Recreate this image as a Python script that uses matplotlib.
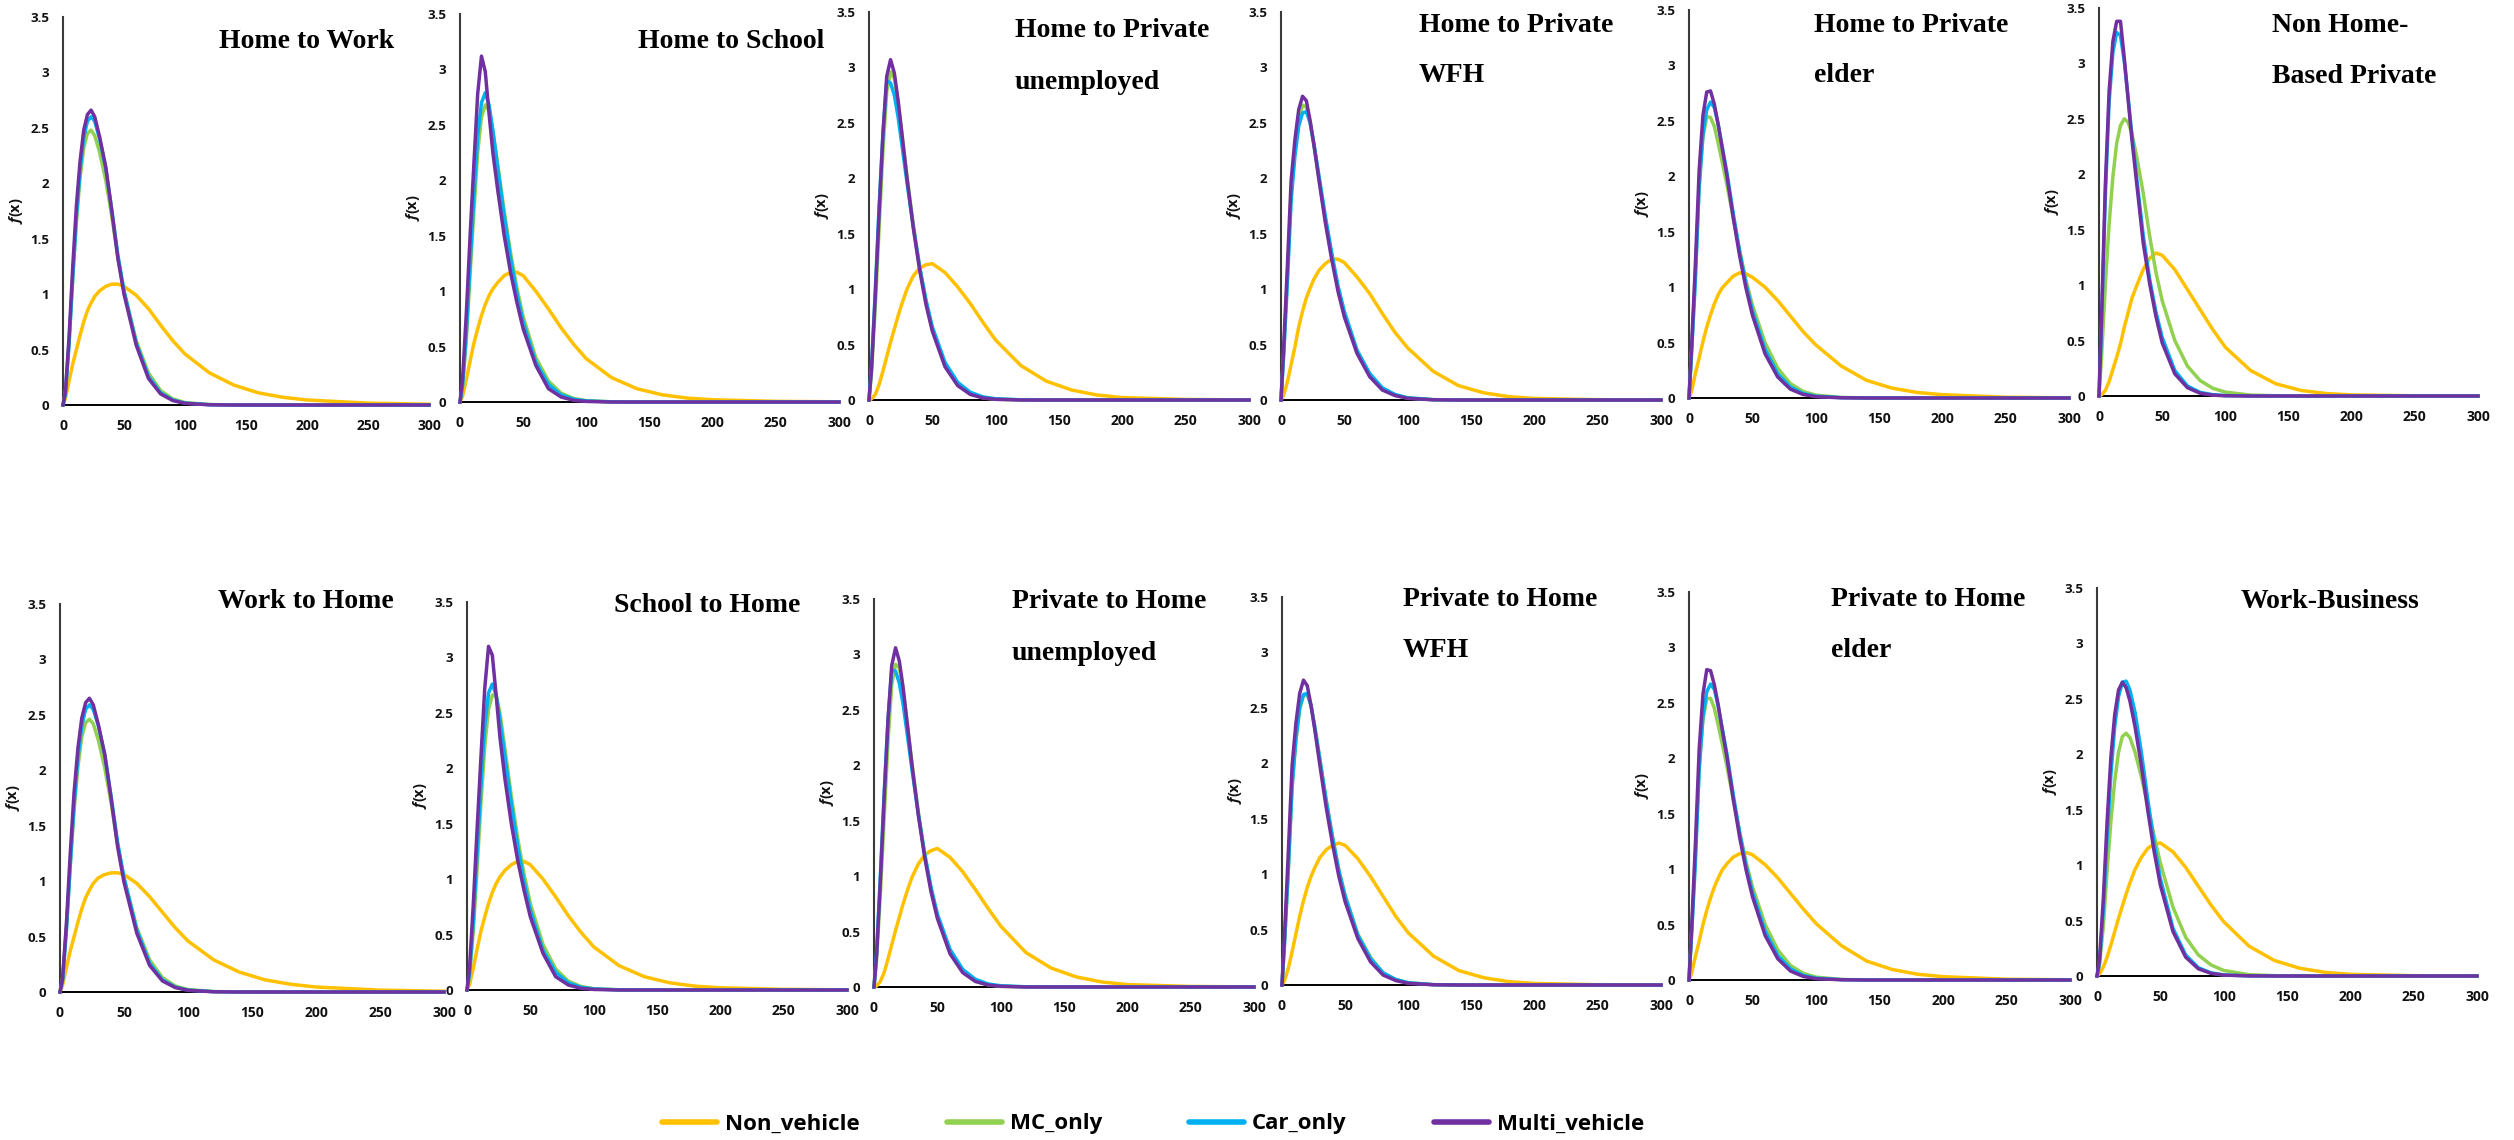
import numpy as np
import matplotlib.pyplot as plt
from matplotlib.lines import Line2D

plt.rcParams['font.family'] = ['Open Sans', 'DejaVu Sans']
plt.rcParams['font.weight'] = 'bold'
plt.rcParams['mathtext.fontset'] = 'custom'
plt.rcParams['mathtext.it'] = 'Open Sans:italic:bold'
plt.rcParams['mathtext.rm'] = 'Open Sans:bold'

x_grid = [0, 2, 5, 8, 11, 14, 17, 20, 23, 26, 30, 35, 40, 45, 50,
          60, 70, 80, 90, 100, 120, 140, 160, 180, 200, 250, 300]

series_names = ['Non_vehicle', 'MC_only', 'Car_only', 'Multi_vehicle']
series_colors = ['#FFC000', '#92D050', '#00B0F0', '#7030A0']

x_ticks = [0, 50, 100, 150, 200, 250, 300]
y_ticks = [0, 0.5, 1, 1.5, 2, 2.5, 3, 3.5]
y_tick_labels = ['0', '0.5', '1', '1.5', '2', '2.5', '3', '3.5']

# each panel: [Non_vehicle, MC_only, Car_only, Multi_vehicle]
home_to_work = [
    [0, 0.06, 0.22, 0.37, 0.5, 0.63, 0.75, 0.85, 0.92, 0.98, 1.03, 1.07, 1.09, 1.09, 1.07, 0.99, 0.87, 0.72, 0.58, 0.46, 0.29, 0.18, 0.11, 0.07, 0.045, 0.017, 0.007],
    [0, 0.12, 0.58, 1.15, 1.65, 2.05, 2.32, 2.45, 2.48, 2.43, 2.28, 2.03, 1.7, 1.33, 1.03, 0.58, 0.29, 0.13, 0.055, 0.022, 0.004, 0.001, 0, 0, 0, 0, 0],
    [0, 0.1, 0.55, 1.15, 1.7, 2.12, 2.41, 2.56, 2.6, 2.56, 2.4, 2.14, 1.76, 1.35, 1.03, 0.56, 0.26, 0.11, 0.045, 0.017, 0.003, 0, 0, 0, 0, 0, 0],
    [0, 0.12, 0.62, 1.25, 1.8, 2.2, 2.48, 2.62, 2.66, 2.6, 2.42, 2.15, 1.75, 1.32, 1.0, 0.54, 0.24, 0.1, 0.04, 0.015, 0.002, 0, 0, 0, 0, 0, 0],
]
home_to_school = [
    [0, 0.05, 0.2, 0.37, 0.53, 0.66, 0.78, 0.88, 0.96, 1.02, 1.08, 1.14, 1.17, 1.17, 1.14, 1.0, 0.84, 0.67, 0.52, 0.39, 0.22, 0.12, 0.065, 0.035, 0.02, 0.006, 0.002],
    [0, 0.13, 0.56, 1.15, 1.72, 2.25, 2.57, 2.68, 2.63, 2.45, 2.13, 1.72, 1.35, 1.03, 0.77, 0.4, 0.19, 0.08, 0.032, 0.012, 0.002, 0, 0, 0, 0, 0, 0],
    [0, 0.15, 0.62, 1.25, 1.85, 2.4, 2.7, 2.79, 2.68, 2.45, 2.1, 1.68, 1.3, 0.98, 0.72, 0.36, 0.16, 0.065, 0.025, 0.01, 0.001, 0, 0, 0, 0, 0, 0],
    [0, 0.2, 0.8, 1.5, 2.15, 2.78, 3.12, 2.98, 2.6, 2.25, 1.9, 1.5, 1.17, 0.9, 0.66, 0.33, 0.12, 0.045, 0.015, 0.005, 0, 0, 0, 0, 0, 0, 0],
]
home_to_private_unemployed = [
    [0, 0.01, 0.05, 0.14, 0.26, 0.39, 0.52, 0.64, 0.76, 0.87, 1.0, 1.12, 1.19, 1.22, 1.23, 1.15, 1.02, 0.87, 0.7, 0.54, 0.31, 0.17, 0.09, 0.045, 0.022, 0.005, 0.001],
    [0, 0.25, 0.85, 1.55, 2.25, 2.78, 2.96, 2.9, 2.68, 2.4, 2.02, 1.58, 1.2, 0.89, 0.64, 0.31, 0.14, 0.055, 0.02, 0.007, 0.001, 0, 0, 0, 0, 0, 0],
    [0, 0.3, 1.0, 1.75, 2.4, 2.88, 2.86, 2.75, 2.55, 2.3, 1.96, 1.56, 1.2, 0.9, 0.66, 0.34, 0.16, 0.07, 0.028, 0.011, 0.002, 0, 0, 0, 0, 0, 0],
    [0, 0.28, 0.95, 1.7, 2.4, 2.92, 3.07, 2.95, 2.7, 2.4, 2.0, 1.55, 1.17, 0.86, 0.62, 0.3, 0.13, 0.05, 0.018, 0.006, 0, 0, 0, 0, 0, 0, 0],
]
home_to_private_wfh = [
    [0, 0.04, 0.16, 0.32, 0.48, 0.66, 0.8, 0.92, 1.01, 1.09, 1.17, 1.23, 1.27, 1.27, 1.24, 1.11, 0.96, 0.78, 0.61, 0.47, 0.26, 0.13, 0.065, 0.03, 0.014, 0.003, 0],
    [0, 0.4, 1.1, 1.88, 2.27, 2.53, 2.66, 2.64, 2.5, 2.3, 2.0, 1.63, 1.3, 1.01, 0.78, 0.44, 0.23, 0.1, 0.045, 0.018, 0.003, 0, 0, 0, 0, 0, 0],
    [0, 0.38, 1.05, 1.8, 2.2, 2.47, 2.59, 2.6, 2.5, 2.31, 2.02, 1.66, 1.33, 1.03, 0.8, 0.45, 0.24, 0.11, 0.05, 0.02, 0.003, 0, 0, 0, 0, 0, 0],
    [0, 0.45, 1.2, 1.98, 2.35, 2.62, 2.74, 2.7, 2.52, 2.3, 1.98, 1.6, 1.27, 0.98, 0.75, 0.42, 0.21, 0.09, 0.04, 0.015, 0.002, 0, 0, 0, 0, 0, 0],
]
home_to_private_elder = [
    [0, 0.06, 0.22, 0.36, 0.51, 0.64, 0.75, 0.85, 0.93, 0.99, 1.04, 1.1, 1.13, 1.12, 1.09, 1.0, 0.88, 0.74, 0.6, 0.48, 0.29, 0.16, 0.09, 0.05, 0.03, 0.007, 0.002],
    [0, 0.42, 1.12, 1.9, 2.35, 2.54, 2.53, 2.45, 2.3, 2.14, 1.92, 1.62, 1.33, 1.06, 0.84, 0.5, 0.27, 0.13, 0.06, 0.026, 0.005, 0.001, 0, 0, 0, 0, 0],
    [0, 0.4, 1.05, 1.9, 2.38, 2.6, 2.67, 2.62, 2.47, 2.28, 2.03, 1.66, 1.32, 1.03, 0.79, 0.44, 0.22, 0.1, 0.042, 0.017, 0.003, 0, 0, 0, 0, 0, 0],
    [0, 0.45, 1.2, 2.05, 2.55, 2.76, 2.77, 2.65, 2.47, 2.27, 2.0, 1.62, 1.28, 0.99, 0.75, 0.4, 0.19, 0.08, 0.032, 0.012, 0.002, 0, 0, 0, 0, 0, 0],
]
non_home_private = [
    [0, 0.01, 0.05, 0.13, 0.24, 0.35, 0.47, 0.62, 0.75, 0.88, 1.0, 1.14, 1.24, 1.29, 1.27, 1.14, 0.96, 0.78, 0.6, 0.44, 0.23, 0.11, 0.05, 0.022, 0.01, 0.002, 0],
    [0, 0.35, 1.0, 1.55, 1.98, 2.28, 2.44, 2.5, 2.47, 2.37, 2.15, 1.83, 1.45, 1.12, 0.86, 0.5, 0.27, 0.14, 0.07, 0.035, 0.008, 0.002, 0, 0, 0, 0, 0],
    [0, 0.65, 1.8, 2.65, 3.1, 3.28, 3.25, 3.02, 2.7, 2.36, 1.95, 1.45, 1.06, 0.76, 0.53, 0.23, 0.09, 0.033, 0.012, 0.004, 0, 0, 0, 0, 0, 0, 0],
    [0, 0.7, 1.9, 2.75, 3.2, 3.38, 3.38, 3.05, 2.68, 2.32, 1.9, 1.38, 1.02, 0.72, 0.48, 0.2, 0.075, 0.025, 0.008, 0.002, 0, 0, 0, 0, 0, 0, 0],
]
work_to_home = [
    [0, 0.06, 0.22, 0.37, 0.5, 0.63, 0.75, 0.85, 0.92, 0.98, 1.03, 1.06, 1.075, 1.075, 1.06, 0.98, 0.86, 0.72, 0.58, 0.46, 0.29, 0.18, 0.11, 0.07, 0.045, 0.017, 0.007],
    [0, 0.12, 0.58, 1.14, 1.64, 2.03, 2.3, 2.43, 2.46, 2.42, 2.27, 2.02, 1.7, 1.33, 1.03, 0.58, 0.29, 0.13, 0.055, 0.022, 0.004, 0.001, 0, 0, 0, 0, 0],
    [0, 0.1, 0.55, 1.14, 1.69, 2.11, 2.4, 2.55, 2.59, 2.55, 2.4, 2.14, 1.76, 1.35, 1.03, 0.56, 0.26, 0.11, 0.045, 0.017, 0.003, 0, 0, 0, 0, 0, 0],
    [0, 0.12, 0.62, 1.25, 1.8, 2.2, 2.47, 2.61, 2.65, 2.59, 2.41, 2.14, 1.74, 1.31, 0.99, 0.53, 0.24, 0.1, 0.04, 0.015, 0.002, 0, 0, 0, 0, 0, 0],
]
school_to_home = [
    [0, 0.05, 0.2, 0.37, 0.53, 0.66, 0.78, 0.88, 0.96, 1.02, 1.08, 1.13, 1.16, 1.16, 1.13, 1.0, 0.84, 0.67, 0.52, 0.39, 0.22, 0.12, 0.065, 0.035, 0.02, 0.006, 0.002],
    [0, 0.12, 0.53, 1.1, 1.68, 2.2, 2.53, 2.66, 2.66, 2.5, 2.17, 1.75, 1.37, 1.05, 0.78, 0.41, 0.19, 0.08, 0.032, 0.012, 0.002, 0, 0, 0, 0, 0, 0],
    [0, 0.15, 0.62, 1.24, 1.84, 2.38, 2.68, 2.76, 2.66, 2.44, 2.1, 1.68, 1.3, 0.98, 0.72, 0.36, 0.16, 0.065, 0.025, 0.01, 0.001, 0, 0, 0, 0, 0, 0],
    [0, 0.2, 0.78, 1.46, 2.1, 2.72, 3.1, 3.02, 2.66, 2.28, 1.9, 1.5, 1.17, 0.9, 0.66, 0.33, 0.12, 0.045, 0.015, 0.005, 0, 0, 0, 0, 0, 0, 0],
]
private_to_home_unemployed = [
    [0, 0.01, 0.05, 0.13, 0.25, 0.38, 0.51, 0.63, 0.75, 0.86, 0.99, 1.11, 1.19, 1.23, 1.25, 1.17, 1.04, 0.88, 0.71, 0.55, 0.31, 0.17, 0.09, 0.045, 0.022, 0.005, 0.001],
    [0, 0.24, 0.83, 1.52, 2.2, 2.73, 2.91, 2.88, 2.67, 2.4, 2.02, 1.58, 1.2, 0.89, 0.64, 0.31, 0.14, 0.055, 0.02, 0.007, 0.001, 0, 0, 0, 0, 0, 0],
    [0, 0.3, 1.0, 1.75, 2.4, 2.86, 2.85, 2.74, 2.55, 2.3, 1.96, 1.56, 1.2, 0.9, 0.66, 0.34, 0.16, 0.07, 0.028, 0.011, 0.002, 0, 0, 0, 0, 0, 0],
    [0, 0.28, 0.95, 1.7, 2.4, 2.9, 3.06, 2.94, 2.7, 2.4, 2.0, 1.55, 1.17, 0.86, 0.62, 0.3, 0.13, 0.05, 0.018, 0.006, 0, 0, 0, 0, 0, 0, 0],
]
private_to_home_wfh = [
    [0, 0.04, 0.15, 0.3, 0.46, 0.62, 0.76, 0.88, 0.98, 1.06, 1.15, 1.22, 1.26, 1.28, 1.26, 1.14, 0.98, 0.8, 0.62, 0.47, 0.26, 0.13, 0.065, 0.03, 0.014, 0.003, 0],
    [0, 0.37, 1.03, 1.78, 2.2, 2.49, 2.61, 2.62, 2.52, 2.33, 2.04, 1.67, 1.34, 1.04, 0.81, 0.46, 0.25, 0.11, 0.05, 0.02, 0.003, 0, 0, 0, 0, 0, 0],
    [0, 0.38, 1.05, 1.8, 2.22, 2.5, 2.62, 2.63, 2.52, 2.32, 2.03, 1.66, 1.33, 1.03, 0.8, 0.45, 0.24, 0.11, 0.05, 0.02, 0.003, 0, 0, 0, 0, 0, 0],
    [0, 0.45, 1.2, 1.98, 2.36, 2.63, 2.75, 2.7, 2.52, 2.3, 1.98, 1.6, 1.27, 0.98, 0.75, 0.42, 0.21, 0.09, 0.04, 0.015, 0.002, 0, 0, 0, 0, 0, 0],
]
private_to_home_elder = [
    [0, 0.06, 0.21, 0.35, 0.5, 0.63, 0.74, 0.84, 0.92, 0.99, 1.05, 1.11, 1.14, 1.15, 1.13, 1.04, 0.92, 0.78, 0.64, 0.51, 0.31, 0.17, 0.095, 0.052, 0.03, 0.007, 0.002],
    [0, 0.42, 1.12, 1.9, 2.35, 2.54, 2.54, 2.45, 2.3, 2.14, 1.92, 1.62, 1.33, 1.06, 0.84, 0.5, 0.27, 0.13, 0.06, 0.026, 0.005, 0.001, 0, 0, 0, 0, 0],
    [0, 0.4, 1.05, 1.9, 2.38, 2.6, 2.67, 2.62, 2.47, 2.28, 2.03, 1.66, 1.32, 1.03, 0.79, 0.44, 0.22, 0.1, 0.042, 0.017, 0.003, 0, 0, 0, 0, 0, 0],
    [0, 0.45, 1.22, 2.08, 2.58, 2.8, 2.79, 2.66, 2.48, 2.27, 2.0, 1.62, 1.28, 0.99, 0.75, 0.4, 0.19, 0.08, 0.032, 0.012, 0.002, 0, 0, 0, 0, 0, 0],
]
work_business = [
    [0, 0.02, 0.08, 0.17, 0.28, 0.4, 0.52, 0.63, 0.74, 0.84, 0.96, 1.07, 1.15, 1.19, 1.2, 1.12, 0.98, 0.81, 0.64, 0.49, 0.27, 0.14, 0.07, 0.033, 0.015, 0.003, 0],
    [0, 0.1, 0.45, 0.95, 1.4, 1.76, 2.02, 2.16, 2.19, 2.15, 2.02, 1.8, 1.54, 1.27, 1.02, 0.62, 0.35, 0.19, 0.1, 0.05, 0.012, 0.003, 0, 0, 0, 0, 0],
    [0, 0.12, 0.6, 1.25, 1.82, 2.25, 2.52, 2.65, 2.66, 2.58, 2.38, 2.02, 1.6, 1.21, 0.88, 0.43, 0.19, 0.075, 0.028, 0.01, 0.001, 0, 0, 0, 0, 0, 0],
    [0, 0.15, 0.7, 1.4, 1.98, 2.36, 2.58, 2.65, 2.6, 2.48, 2.25, 1.9, 1.5, 1.13, 0.82, 0.4, 0.17, 0.065, 0.024, 0.008, 0.001, 0, 0, 0, 0, 0, 0],
]

panels = [home_to_work, home_to_school, home_to_private_unemployed, home_to_private_wfh,
          home_to_private_elder, non_home_private, work_to_home, school_to_home,
          private_to_home_unemployed, private_to_home_wfh, private_to_home_elder, work_business]

titles = [["Home to Work"], ["Home to School"], ["Home to Private", "unemployed"],
          ["Home to Private", "WFH"], ["Home to Private", "elder"], ["Non Home-", "Based Private"],
          ["Work to Home"], ["School to Home"], ["Private to Home", "unemployed"],
          ["Private to Home", "WFH"], ["Private to Home", "elder"], ["Work-Business"]]

# layout in pixels: (axis left, zero line y, axis width)
W, H = 2514, 1140
AX_H = 388
boxes = [(63, 405, 366), (460, 402, 379), (869, 400, 380), (1281, 400, 380), (1689, 398, 380), (2099, 396, 379),
         (60, 992, 384), (467, 990, 380), (874, 987, 380), (1282, 985, 379), (1689, 980, 381), (2097, 976, 380)]
# title left x and baselines (pixels)
title_pos = [(219, [48]), (638, [48]), (1015, [37, 89]), (1419, [32, 82]), (1814, [32, 82]), (2272, [32, 83]),
             (218, [608]), (614, [612]), (1012, [608, 660]), (1403, [606, 657]), (1831, [606, 657]), (2241, [608])]

fig = plt.figure(figsize=(W / 100, H / 100), dpi=100)

for i, data in enumerate(panels):
    left, zero_y, width = boxes[i]
    ax = fig.add_axes([left / W, 1 - zero_y / H, width / W, AX_H / H])
    for vals, c in zip(data, series_colors):
        ax.plot(x_grid, vals, color=c, lw=2.5, solid_joinstyle='round', clip_on=False, zorder=3)
    ax.set_xlim(0, 300)
    ax.set_ylim(0, 3.5)
    ax.set_xticks(x_ticks)
    ax.set_yticks(y_ticks)
    ax.set_yticklabels(y_tick_labels)
    ax.tick_params(length=0, pad=10, labelsize=9.5, labelcolor='#111111')
    ax.tick_params(axis='x', labelsize=10)
    for s in ['top', 'right']:
        ax.spines[s].set_visible(False)
    ax.spines['left'].set_color('#3a3a3a')
    ax.spines['left'].set_linewidth(1.5)
    ax.spines['bottom'].set_color('black')
    ax.spines['bottom'].set_linewidth(1.4)
    ax.set_ylabel(r'$f$(x)', fontsize=10.5, fontweight='bold', color='#111111')
    ax.yaxis.set_label_coords(-38 / width, 0.5)

    tx, baselines = title_pos[i]
    for line, by in zip(titles[i], baselines):
        fig.text(tx / W, 1 - by / H, line, ha='left', va='baseline',
                 fontfamily='Liberation Serif', fontweight='bold', fontsize=20, color='black')

handles = [Line2D([], [], color=c, lw=4, solid_capstyle='round') for c in series_colors]
fig.legend(handles, series_names, loc='center', bbox_to_anchor=(1153 / W, 1 - 1124 / H), ncol=4,
           frameon=False, handlelength=2.5, handletextpad=0.35, columnspacing=3.9,
           prop={'family': 'Open Sans', 'weight': 'bold', 'size': 16})

fig.savefig('out.png', dpi=100, facecolor='white')
